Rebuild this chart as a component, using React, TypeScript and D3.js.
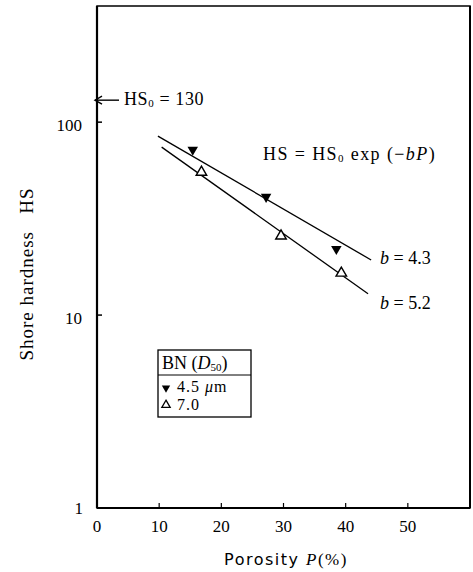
import { useMemo } from 'react'
import * as d3 from 'd3'

// porosity (%) vs Shore hardness
const fineP = [15.4, 27.2, 38.5]
const fineHS = [72, 41, 22]
const coarseP = [16.8, 29.6, 39.3]
const coarseHS = [55, 25.7, 16.5]

// fitted lines HS = HS0 exp(-bP), end points
const fitFineP = [9.8, 44.1]
const fitFineHS = [84.6, 19.3]
const fitCoarseP = [10.4, 43.6]
const fitCoarseHS = [74.2, 12.9]

const xTicks = [0, 10, 20, 30, 40, 50]
const yTicks = [1, 10, 100]
const hs0 = 130

const W = 473
const H = 572
const serif = '"Liberation Serif", "DejaVu Serif", serif'

export default function App() {
  const x = useMemo(() => d3.scaleLinear().domain([0, 60]).range([97, 470]), [])
  const y = useMemo(() => d3.scaleLog().domain([1, 400]).range([508, 6]), [])

  const line = d3.line<[number, number]>()
    .x(d => x(d[0]))
    .y(d => y(d[1]))

  const fineLine = fitFineP.map((p, i) => [p, fitFineHS[i]] as [number, number])
  const coarseLine = fitCoarseP.map((p, i) => [p, fitCoarseHS[i]] as [number, number])
  const tri = d3.symbol(d3.symbolTriangle, 48)() || ''
  const triSmall = d3.symbol(d3.symbolTriangle, 30)() || ''

  const [x0, x1] = x.range()
  const [y0, y1] = y.range()
  const arrowY = y(hs0)

  return (
    <svg width={W} height={H} style={{ position: 'absolute', left: 0, top: 0 }} fontFamily={serif}>
      <rect width={W} height={H} fill="#fff" />

      {/* frame */}
      <rect x={x0} y={y1} width={x1 - x0} height={y0 - y1} fill="none" stroke="#000" strokeWidth={1.5} />
      <line x1={x0} x2={x0} y1={y1} y2={y0} stroke="#000" strokeWidth={2.2} />
      <line x1={x0} x2={x1} y1={y0} y2={y0} stroke="#000" strokeWidth={2} />
      <line x1={x1} x2={x1} y1={y1} y2={y0} stroke="#000" strokeWidth={2} />

      {/* y ticks */}
      {yTicks.map(t => (
        <g key={t}>
          {t !== 1 && <line x1={x0} x2={x0 + 5} y1={y(t)} y2={y(t)} stroke="#000" strokeWidth={1.5} />}
          <text x={t === 1 ? 83 : 82} y={y(t) + (t === 1 ? 6 : 9)} textAnchor="end" fontSize={17}>{t}</text>
        </g>
      ))}

      {/* x ticks */}
      {xTicks.map(t => (
        <g key={t}>
          {t !== 0 && <line x1={x(t)} x2={x(t)} y1={y0} y2={y0 - 5} stroke="#000" strokeWidth={1.2} />}
          <text x={x(t)} y={y0 + 24} textAnchor="middle" fontSize={17}>{t}</text>
        </g>
      ))}

      {/* axis titles */}
      <text transform={`translate(33,274) rotate(-90)`} textAnchor="middle" fontSize={19} letterSpacing={1}>
        Shore hardness{'\u00a0\u00a0\u00a0'}HS
      </text>
      <text x={286} y={565} textAnchor="middle" fontSize={17} letterSpacing={1.5}>
        <tspan fontFamily='"DejaVu Sans", sans-serif' fontSize={16}>Porosity </tspan>
        <tspan fontStyle="italic">P</tspan>
        <tspan>(%)</tspan>
      </text>

      {/* HS0 arrow */}
      <line x1={x0 - 2} x2={x0 + 22} y1={arrowY} y2={arrowY} stroke="#000" strokeWidth={1.4} />
      <path d={`M${x0 + 5},${arrowY - 4} L${x0 - 2},${arrowY} L${x0 + 5},${arrowY + 4}`} fill="none" stroke="#000" strokeWidth={1.4} />
      <text x={x0 + 27} y={arrowY + 5} fontSize={18} letterSpacing={0.6}>
        HS<tspan fontSize={11} dy={2}>0</tspan><tspan dy={-2}> = {hs0}</tspan>
      </text>

      {/* equation */}
      <text x={263} y={160} fontSize={18} letterSpacing={1.4}>
        HS = HS<tspan fontSize={11} dy={2}>0</tspan><tspan dy={-2}> exp (−</tspan>
        <tspan fontStyle="italic">bP</tspan>)
      </text>

      {/* fit lines */}
      <path d={line(fineLine) || ''} fill="none" stroke="#000" strokeWidth={1.3} />
      <path d={line(coarseLine) || ''} fill="none" stroke="#000" strokeWidth={1.3} />
      <text x={380} y={264} fontSize={18}><tspan fontStyle="italic">b</tspan> = 4.3</text>
      <text x={380} y={309} fontSize={18}><tspan fontStyle="italic">b</tspan> = 5.2</text>

      {/* data points */}
      {fineP.map((p, i) => (
        <path key={'f' + i} d={tri} transform={`translate(${x(p)},${y(fineHS[i])}) rotate(180)`} fill="#000" />
      ))}
      {coarseP.map((p, i) => (
        <path key={'c' + i} d={tri} transform={`translate(${x(p)},${y(coarseHS[i])})`} fill="#fff" stroke="#000" strokeWidth={1.4} />
      ))}

      {/* legend */}
      <g>
        <rect x={158} y={350} width={93} height={67} fill="#fff" stroke="#000" strokeWidth={1.3} />
        <line x1={158} x2={251} y1={375} y2={375} stroke="#000" strokeWidth={1} />
        <text x={162} y={369} fontSize={18}>
          BN (<tspan fontStyle="italic">D</tspan><tspan fontSize={11} dy={2}>50</tspan><tspan dy={-2}>)</tspan>
        </text>
        <path d={triSmall} transform="translate(166,388) rotate(180)" fill="#000" />
        <text x={177} y={392} fontSize={16} letterSpacing={1}>4.5 <tspan fontStyle="italic">μ</tspan>m</text>
        <path d={triSmall} transform="translate(166,405)" fill="#fff" stroke="#000" strokeWidth={1.3} />
        <text x={177} y={410} fontSize={16} letterSpacing={1}>7.0</text>
      </g>
    </svg>
  )
}
